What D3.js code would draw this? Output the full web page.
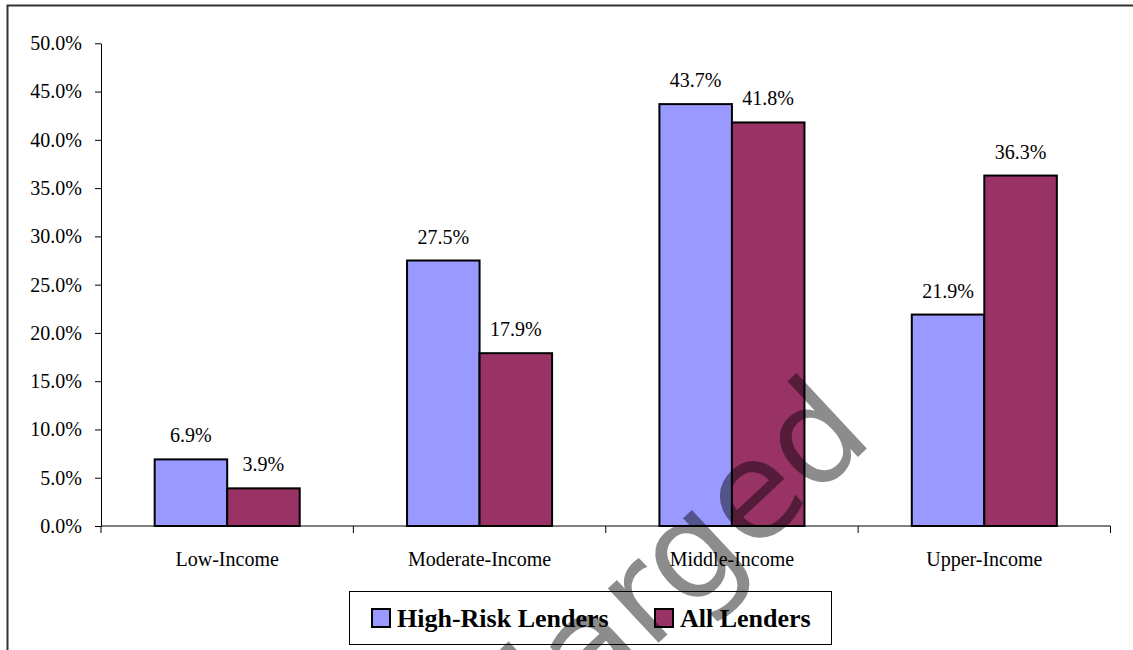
<!DOCTYPE html>
<html>
<head>
<meta charset="utf-8">
<script src="https://cdn.jsdelivr.net/npm/d3@7"></script>
<style>
  body { margin: 0; background: #fff; }
  svg text { font-family: "Liberation Serif", "Times New Roman", serif; }
</style>
</head>
<body>
<svg id="chart" width="1133" height="650"></svg>
<script>
// chart data
const categories = ['Low-Income', 'Moderate-Income', 'Middle-Income', 'Upper-Income'];
const seriesNames = ['High-Risk Lenders', 'All Lenders'];
const highRisk = [6.9, 27.5, 43.7, 21.9];
const allLenders = [3.9, 17.9, 41.8, 36.3];
const yTicks = [0, 5, 10, 15, 20, 25, 30, 35, 40, 45, 50];
const colours = ['#9999FF', '#993366'];

const svg = d3.select('#chart');

// outer frame (runs off the right and bottom edges)
svg.append('rect')
    .attr('x', 7.5).attr('y', 5.5)
    .attr('width', 1200).attr('height', 700)
    .attr('fill', 'none')
    .attr('stroke', '#333').attr('stroke-width', 2);

// scales
const x = d3.scaleBand().domain(categories).range([101, 1110.5]);
const xInner = d3.scaleBand().domain(seriesNames)
    .range([0, x.bandwidth()]).paddingOuter(0.74);
const y = d3.scaleLinear().domain([0, 50]).range([526, 43.3]);

// y axis
const yAxis = svg.append('g')
    .attr('transform', 'translate(101,0)')
    .call(d3.axisLeft(y)
        .tickValues(yTicks)
        .tickSize(6)
        .tickSizeOuter(0)
        .tickPadding(13)
        .tickFormat(d => d.toFixed(1) + '%'));
yAxis.selectAll('text')
    .style('font-family', '"Liberation Serif", serif')
    .style('font-size', '20px')
    .attr('fill', '#000');
yAxis.selectAll('line, path').attr('stroke', '#000');

// x axis line + boundary ticks
const g = svg.append('g');
g.append('line')
    .attr('x1', x.range()[0]).attr('x2', x.range()[1])
    .attr('y1', y(0)).attr('y2', y(0))
    .attr('stroke', '#000');
const bounds = categories.map(c => x(c)).concat([x.range()[1]]);
g.selectAll('line.tick')
    .data(bounds)
    .enter()
      .append('line')
      .attr('class', 'tick')
      .attr('x1', d => d).attr('x2', d => d)
      .attr('y1', y(0)).attr('y2', y(0) + 7)
      .attr('stroke', '#000');

g.selectAll('text.cat')
    .data(categories)
    .enter()
      .append('text')
      .attr('class', 'cat')
      .attr('x', d => x(d) + x.bandwidth() / 2)
      .attr('y', 566)
      .attr('text-anchor', 'middle')
      .style('font-size', '20px')
      .text(d => d);

// bars
const rows = categories.map((c, i) => ({
    cat: c,
    vals: [
        { s: seriesNames[0], v: highRisk[i], col: colours[0] },
        { s: seriesNames[1], v: allLenders[i], col: colours[1] }
    ]
}));

const group = svg.append('g').selectAll('g')
    .data(rows)
    .enter()
      .append('g')
      .attr('transform', d => 'translate(' + x(d.cat) + ',0)');

group.selectAll('rect')
    .data(d => d.vals)
    .enter()
      .append('rect')
      .attr('x', d => xInner(d.s))
      .attr('y', d => y(d.v))
      .attr('width', xInner.bandwidth())
      .attr('height', d => y(0) - y(d.v))
      .attr('fill', d => d.col)
      .attr('stroke', '#000')
      .attr('stroke-width', 2);

group.selectAll('text')
    .data(d => d.vals)
    .enter()
      .append('text')
      .attr('x', d => xInner(d.s) + xInner.bandwidth() / 2)
      .attr('y', d => y(d.v) - 17)
      .attr('text-anchor', 'middle')
      .style('font-size', '20px')
      .text(d => d.v.toFixed(1) + '%');

// legend
const legend = svg.append('g');
legend.append('rect')
    .attr('x', 349.5).attr('y', 591.5)
    .attr('width', 482).attr('height', 53)
    .attr('fill', '#fff')
    .attr('stroke', '#000');
const legendX = [372, 655];
seriesNames.forEach((s, i) => {
    legend.append('rect')
        .attr('x', legendX[i]).attr('y', 609)
        .attr('width', 18).attr('height', 18)
        .attr('fill', colours[i])
        .attr('stroke', '#000')
        .attr('stroke-width', 2);
    legend.append('text')
        .attr('x', legendX[i] + 25)
        .attr('y', 627)
        .style('font-size', '26px')
        .style('font-weight', 'bold')
        .text(s);
});

// watermark over the picture
svg.append('text')
    .attr('transform', 'translate(876,440) rotate(-43)')
    .attr('text-anchor', 'end')
    .style('font-family', '"DejaVu Sans", sans-serif')
    .style('font-size', '136px')
    .attr('fill', '#000')
    .attr('fill-opacity', 0.45)
    .text('Enlarged');
</script>
</body>
</html>
